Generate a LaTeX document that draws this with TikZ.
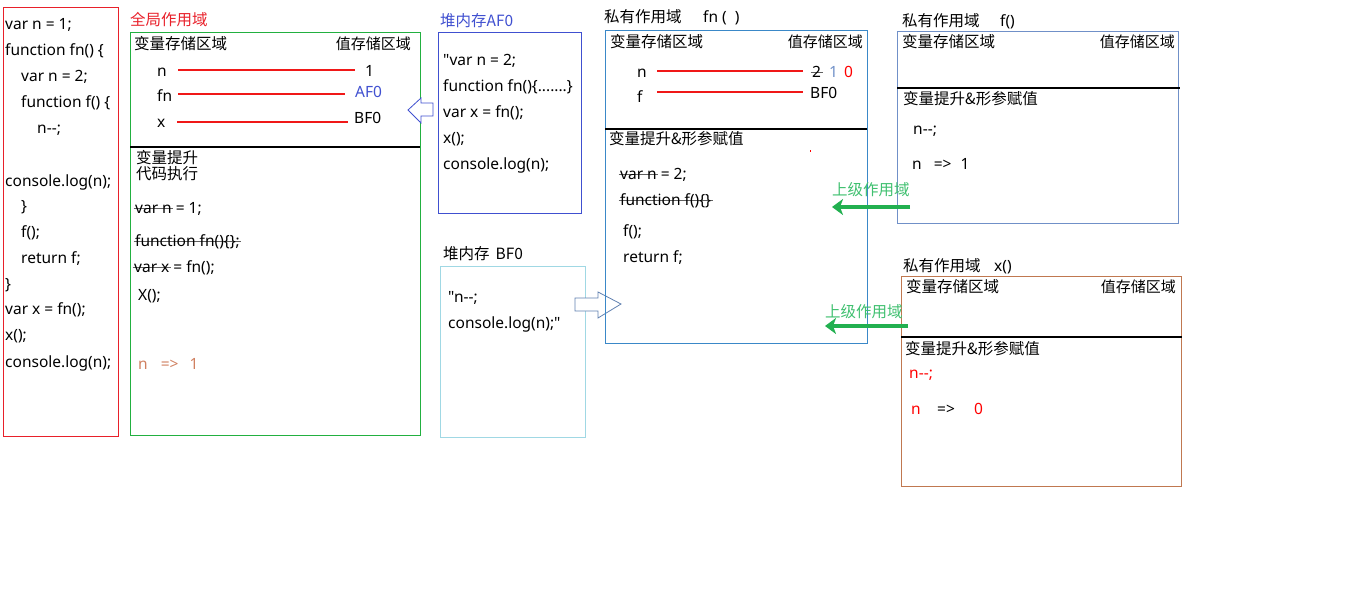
\documentclass[tikz,border=0pt]{standalone}
\usepackage{fontspec}
\setmainfont{Noto Sans}[Ligatures=TeXOff]
\newfontfamily\cjk{Noto Sans CJK SC}[Ligatures=TeXOff]
\usetikzlibrary{arrows.meta,fit}

\definecolor{redbox}{HTML}{E8202A}
\definecolor{redline}{HTML}{F01818}
\definecolor{greenbox}{HTML}{22B040}
\definecolor{heapblue}{HTML}{4050D0}
\definecolor{heaplight}{HTML}{A0D8E4}
\definecolor{fnblue}{HTML}{3A88C8}
\definecolor{fblue}{HTML}{7090C8}
\definecolor{xbrown}{HTML}{C07850}
\definecolor{resultorange}{HTML}{D08060}
\definecolor{scopegreen}{HTML}{22B050}
\definecolor{scopetext}{HTML}{40C070}
\definecolor{stk}{HTML}{606060}
\definecolor{arrowsteel}{HTML}{6080B0}

% struck-through text
\newsavebox\stkbox
\newcommand\strk[1]{\sbox\stkbox{#1}\rlap{\hspace*{-1.5pt}\raisebox{0.28em}{\textcolor{stk}{\rule{\dimexpr\wd\stkbox+3pt\relax}{0.9pt}}}}\usebox\stkbox}

\begin{document}
\begin{tikzpicture}[x=1pt,y=-1pt,
  txt/.style={anchor=base west, inner sep=0pt, yshift=-1.5pt, font=\fontsize{15.5}{18}\selectfont},
  rtxt/.style={anchor=base east, inner sep=0pt, yshift=-1.5pt, font=\fontsize{15}{18}\selectfont},
  frame/.style={inner sep=0pt, draw=#1, line width=1pt},
  redlink/.style={draw=redline, line width=1.2pt},
  divider/.style={draw=black, line width=1.2pt},
  garrow/.style={draw=scopegreen, line width=4.5pt, -{Stealth[length=11pt,width=16pt,inset=3pt]}},
  hollow/.style={line width=0.8pt, fill=white}
]
\useasboundingbox (0,0) rectangle (1360,607);

% ---- source code ----
\node[frame=redbox, fit={(3,8)(118,436)}] (code) {};
\node[txt] (c1)  at (5,28)   {var n = 1;};
\node[txt] (c2)  at (5,54)   {function fn() \{};
\node[txt] (c3)  at (21,80)  {var n = 2;};
\node[txt] (c4)  at (21,106) {function f() \{};
\node[txt] (c5)  at (37,132) {n--;};
\node[txt] (c6)  at (5,185)  {console.log(n);};
\node[txt] (c7)  at (21,210) {\}};
\node[txt] (c8)  at (21,236) {f();};
\node[txt] (c9)  at (21,262) {return f;};
\node[txt] (c10) at (5,288)  {\}};
\node[txt] (c11) at (5,313)  {var x = fn();};
\node[txt] (c12) at (5,339)  {x();};
\node[txt] (c13) at (5,366)  {console.log(n);};

% ---- global scope ----
\node[txt, text=redbox] (gtitle) at (130,24) {\cjk 全局作用域};
\node[frame=greenbox, fit={(130,33)(420,435)}] (global) {};
\node[txt] (gvarh) at (134,48) {\cjk 变量存储区域};
\node[rtxt] (gvalh) at (411,48) {\cjk 值存储区域};
\node[txt] (gn) at (157,75) {n};
\node[txt] (gnv) at (365,75) {1};
\node[txt] (gfn) at (157,100) {fn};
\node[txt, text=heapblue] (gfnv) at (355,96) {AF0};
\node[txt] (gx) at (157,126) {x};
\node[txt] (gxv) at (354,122) {BF0};
\draw[redlink] (178,70) -- (355,70);
\draw[redlink] (178,94) -- (345,94);
\draw[redlink] (177,122) -- (348,122);
\draw[divider] (130,147) -- (420,147);
\node[txt] (ghoist) at (136,162) {\cjk 变量提升};
\node[txt] (gexec) at (136,178) {\cjk 代码执行};
\node[txt] (g1) at (135,212) {\strk{var n} = 1;};
\node[txt] (g2) at (135,245) {\strk{function fn()\{\};}};
\node[txt] (g3) at (134,271) {\strk{var x} = fn();};
\node[txt] (g4) at (138,299) {X();};
\node[txt, text=resultorange] (g5) at (138,368) {n\hspace{13pt}=>\hspace{11pt}1};

% ---- heap AF0 ----
\node[txt, text=heapblue] (atitle) at (440,25) {\cjk 堆内存AF0};
\node[frame=heapblue, fit={(438,33)(581,213)}] (heapA) {};
\node[txt] (a1) at (443,64)  {"var n = 2;};
\node[txt] (a2) at (443,90)  {function fn()\{.......\}};
\node[txt] (a3) at (443,116) {var x = fn();};
\node[txt] (a4) at (443,142) {x();};
\node[txt] (a5) at (443,168) {console.log(n);};
\draw[hollow, draw=heapblue]
  (433,103) -- (421,103) -- (421,98) -- (408,110) -- (421,123) -- (421,116) -- (433,116) -- cycle;

% ---- heap BF0 ----
\node[txt] (btitle) at (443,258) {\cjk 堆内存\hspace{6pt}BF0};
\node[frame=heaplight, fit={(440,266)(585,437)}] (heapB) {};
\node[txt] (b1) at (448,301) {"n--;};
\node[txt] (b2) at (448,327) {console.log(n);"};
\draw[hollow, draw=arrowsteel]
  (575,298) -- (598,298) -- (598,292) -- (621,304) -- (598,318) -- (598,311) -- (575,311) -- cycle;

% ---- private scope fn() ----
\node[txt] (fntitle) at (604,21) {\cjk 私有作用域};
\node[txt] (fnname) at (703,21) {fn\hspace{4pt}(\hspace{8pt})};
\node[frame=fnblue, fit={(605,31)(867,343)}] (fnscope) {};
\node[txt] (fnvarh) at (610,46) {\cjk 变量存储区域};
\node[rtxt] (fnvalh) at (863,46) {\cjk 值存储区域};
\node[txt] (fnn) at (637,76) {n};
\node[txt] (fnnv2) at (812,76) {\strk{2}};
\node[txt, text=fblue] (fnnv1) at (829,76) {1};
\node[txt, text=red] (fnnv0) at (844,76) {0};
\node[txt] (fnf) at (637,101) {f};
\node[txt] (fnfv) at (810,97) {BF0};
\draw[redlink] (657,71) -- (803,71);
\draw[redlink] (657,92) -- (803,92);
\draw[divider] (605,129) -- (867,129);
\node[txt] (fnhoist) at (609,143) {\cjk 变量提升\&形参赋值};
\fill[red] (809.5,150.5) rectangle (811,152);
\node[txt] (fn1) at (620,178) {\strk{var n} = 2;};
\node[txt] (fn2) at (620,204) {\strk{function f()\{\}}};
\node[txt] (fn3) at (623,235) {f();};
\node[txt] (fn4) at (623,261) {return f;};

% ---- private scope f() ----
\node[txt] (ftitle) at (902,25) {\cjk 私有作用域};
\node[txt] (fname) at (1000,25) {f()};
\node[frame=fblue, fit={(897,32)(1178,223)}] (fscope) {};
\node[txt] (fvarh) at (902,46) {\cjk 变量存储区域};
\node[rtxt] (fvalh) at (1175,46) {\cjk 值存储区域};
\draw[divider] (897,88) -- (1180,88);
\node[txt] (fhoist) at (903,103) {\cjk 变量提升\&形参赋值};
\node[txt] (f1) at (913,133) {n--;};
\node[txt] (f2) at (912,168) {n\hspace{12pt}=>\hspace{9pt}1};

% ---- private scope x() ----
\node[txt] (xtitle) at (903,270) {\cjk 私有作用域};
\node[txt] (xname) at (994,270) {x()};
\node[frame=xbrown, fit={(901,276)(1181,486)}] (xscope) {};
\node[txt] (xvarh) at (906,291) {\cjk 变量存储区域};
\node[rtxt] (xvalh) at (1176,291) {\cjk 值存储区域};
\draw[divider] (901,337) -- (1182,337);
\node[txt] (xhoist) at (905,353) {\cjk 变量提升\&形参赋值};
\node[txt, text=red] (x1) at (909,377) {n--;};
\node[txt, text=red] (x2n) at (911,413) {n};
\node[txt] (x2a) at (937,413) {=>};
\node[txt, text=red] (x2v) at (974,413) {0};

% ---- scope chain arrows ----
\coordinate (fout) at (910,207);
\coordinate (fnin1) at (832,207);
\coordinate (xout) at (908,326);
\coordinate (fnin2) at (825,326);
\draw[garrow] (fout) -- (fnin1);
\draw[garrow] (xout) -- (fnin2);
\node[txt, text=scopetext] (up1) at (832,194) {\cjk 上级作用域};
\node[txt, text=scopetext] (up2) at (825,316) {\cjk 上级作用域};
\end{tikzpicture}
\end{document}
